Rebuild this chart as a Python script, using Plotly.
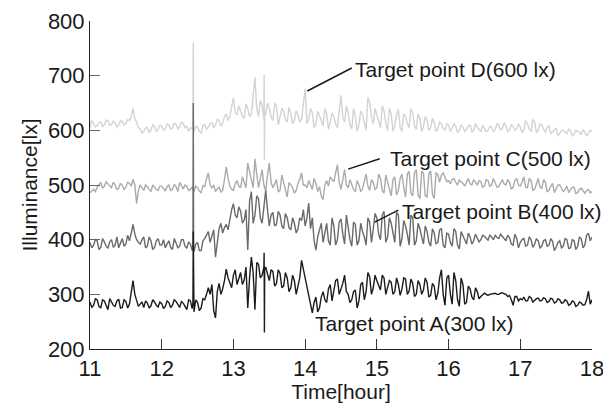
import numpy as np
import plotly.graph_objects as go

hours = [11, 12, 13, 14, 15, 16, 17, 18]

# readings on the 0.05 h grid (11.00, 11.05, ... 18.00)
d_vals = [
    605, 612, 608, 615, 610, 617, 611, 614, 609, 616, 612, 618, 640, 615, 603, 598, 606, 600, 607, 602,
    608, 603, 610, 604, 611, 606, 613, 608, 605, 598, 606, 595, 610, 606, 614, 610, 618, 612, 630, 625,
    660, 628, 636, 622, 640, 630, 697, 625, 645, 630, 640, 618, 645, 625, 635, 615, 630, 618, 628, 620,
    676, 620, 632, 612, 628, 608, 630, 615, 625, 605, 664, 615, 632, 603, 625, 610, 630, 600, 650, 612,
    628, 605, 635, 600, 630, 610, 638, 598, 625, 605, 632, 602, 622, 608, 618, 604, 614, 602, 612, 600,
    610, 604, 608, 600, 606, 602, 609, 600, 605, 598, 604, 600, 606, 602, 610, 604, 608, 600, 607, 603,
    606, 600, 612, 598, 615, 600, 610, 596, 608, 598, 604, 595, 600, 594, 599, 593, 598, 592, 597, 594,
    598,
]
c_vals = [
    486, 492, 496, 505, 498, 502, 495, 500, 494, 499, 496, 503, 510, 466, 500, 490, 497, 488, 495, 490,
    498, 489, 500, 492, 497, 505, 493, 498, 492, 488, 495, 486, 497, 522, 494, 488, 496, 490, 533, 498,
    490, 508, 495, 505, 540, 510, 548, 495, 528, 488, 540, 495, 510, 490, 505, 478, 500, 485, 503, 522,
    500, 508, 492, 503, 497, 473, 508, 515, 506, 537, 492, 528, 495, 502, 488, 500, 493, 520, 490, 505,
    495, 512, 485, 505, 480, 515, 490, 520, 478, 525, 480, 528, 475, 522, 478, 526, 475, 520, 518, 512,
    508, 510, 505, 509, 503, 507, 502, 510, 500, 506, 498, 508, 500, 504, 497, 510, 500, 505, 496, 512,
    498, 515, 495, 508, 492, 512, 494, 505, 490, 503, 492, 500, 488, 498, 490, 496, 486, 494, 485, 492,
    488,
]
b_vals = [
    395, 390, 398, 386, 396, 384, 400, 390, 385, 402, 392, 398, 428, 400, 392, 405, 388, 398, 386, 402,
    390, 385, 398, 382, 394, 388, 400, 384, 392, 378, 395, 380, 402, 415, 405, 368, 420, 412, 428, 440,
    466, 440, 452, 436, 381, 488, 445, 475, 430, 490, 425, 450, 428, 445, 420, 440, 418, 430, 420, 435,
    425, 467, 440, 381, 420, 395, 430, 390, 425, 400, 438, 392, 420, 388, 428, 398, 415, 390, 432, 420,
    440, 400, 452, 405, 430, 395, 445, 402, 425, 390, 440, 398, 420, 392, 415, 388, 412, 395, 420, 385,
    410, 388, 415, 383, 408, 392, 405, 398, 404, 400, 406, 399, 405, 408, 402, 406, 398, 404, 390, 402,
    395, 403, 390, 400, 392, 398, 388, 400, 390, 397, 386, 398, 388, 400, 385, 398, 388, 402, 390, 412,
    405,
]
a_vals = [
    286, 280, 290, 275, 288, 272, 285, 278, 291, 276, 287, 282, 325, 290, 282, 276, 284, 279, 286, 277,
    283, 278, 285, 280, 287, 276, 284, 272, 288, 268, 285, 275, 290, 312, 318, 257, 320, 310, 346, 322,
    335, 318, 340, 326, 275, 368, 272, 355, 335, 350, 325, 342, 320, 338, 315, 330, 312, 325, 318, 362,
    330, 300, 266, 295, 275, 305, 285, 318, 305, 328, 310, 335, 300, 290, 308, 288, 322, 305, 332, 312,
    325, 308, 330, 312, 322, 305, 318, 310, 328, 306, 320, 300, 318, 308, 322, 298, 315, 302, 345, 280,
    335, 282, 325, 278, 318, 285, 310, 290, 305, 296, 302, 298, 301, 302, 300, 303, 300, 298, 280, 296,
    292, 295, 288, 294, 290, 293, 289, 292, 287, 291, 286, 290, 285, 288, 282, 286, 280, 284, 281, 306,
    290,
]

# readings halfway between grid points (11.025, 11.075, ... 17.975)
d_mid = [
    618, 606, 614, 607, 619, 609, 617, 606, 618, 610, 620, 625, 622, 605, 595, 604, 596, 610, 598, 609,
    600, 612, 602, 613, 603, 615, 604, 598, 603, 607, 598, 609, 602, 612, 605, 620, 608, 625, 618, 640,
    632, 645, 626, 648, 625, 660, 640, 655, 620, 650, 625, 650, 610, 640, 620, 642, 612, 636, 615, 645,
    612, 640, 605, 635, 618, 640, 602, 632, 612, 640, 625, 645, 610, 640, 598, 635, 615, 660, 625, 640,
    615, 645, 612, 640, 598, 628, 605, 630, 612, 640, 608, 630, 598, 625, 600, 622, 598, 615, 604, 612,
    598, 612, 596, 610, 598, 608, 597, 612, 601, 609, 598, 607, 598, 612, 600, 614, 598, 611, 600, 612,
    596, 618, 602, 620, 596, 612, 602, 606, 594, 602, 590, 600, 596, 602, 590, 600, 596, 601, 590, 600,
]
c_mid = [
    490, 488, 500, 494, 506, 497, 505, 492, 503, 492, 505, 498, 500, 490, 495, 500, 492, 500, 492, 498,
    494, 497, 490, 501, 488, 499, 500, 490, 496, 498, 489, 499, 512, 500, 500, 493, 487, 510, 512, 492,
    502, 498, 515, 495, 522, 495, 520, 512, 500, 518, 505, 502, 488, 518, 492, 505, 495, 490, 510, 500,
    495, 500, 512, 488, 480, 500, 498, 510, 522, 505, 510, 500, 510, 492, 508, 488, 505, 498, 510, 492,
    520, 490, 518, 488, 510, 482, 512, 495, 520, 485, 522, 482, 525, 480, 520, 483, 522, 505, 522, 506,
    502, 512, 500, 506, 498, 512, 500, 504, 508, 496, 510, 498, 512, 496, 505, 502, 510, 492, 508, 500,
    505, 496, 512, 490, 502, 496, 510, 488, 498, 486, 500, 494, 492, 486, 496, 484, 492, 489, 490, 486,
]
b_mid = [
    385, 400, 382, 402, 388, 396, 386, 405, 395, 388, 408, 412, 410, 395, 400, 385, 405, 382, 398, 390,
    400, 392, 386, 402, 385, 400, 388, 396, 380, 392, 380, 398, 410, 395, 418, 400, 430, 422, 418, 455,
    445, 460, 430, 455, 470, 430, 480, 440, 460, 455, 445, 425, 452, 425, 448, 422, 440, 412, 440, 455,
    440, 420, 398, 405, 430, 415, 398, 440, 390, 432, 410, 445, 400, 432, 390, 430, 405, 440, 395, 448,
    410, 445, 395, 440, 415, 450, 388, 435, 410, 445, 390, 430, 405, 425, 395, 420, 392, 418, 390, 412,
    395, 420, 390, 415, 398, 412, 392, 410, 396, 408, 402, 408, 400, 404, 410, 400, 408, 392, 410, 385,
    400, 388, 405, 386, 402, 385, 398, 388, 402, 380, 395, 385, 402, 384, 400, 382, 405, 385, 408, 398,
]
a_mid = [
    276, 292, 278, 290, 278, 292, 280, 288, 275, 290, 275, 305, 300, 278, 286, 288, 275, 290, 280, 286,
    274, 288, 276, 290, 280, 287, 278, 290, 274, 290, 270, 292, 300, 300, 270, 305, 300, 325, 330, 312,
    345, 330, 318, 350, 330, 340, 358, 330, 350, 335, 345, 315, 345, 312, 340, 305, 335, 300, 330, 345,
    310, 280, 285, 268, 295, 290, 310, 288, 325, 300, 320, 305, 285, 305, 275, 318, 290, 340, 300, 335,
    315, 335, 300, 325, 300, 330, 298, 330, 300, 328, 296, 325, 300, 330, 295, 320, 290, 330, 300, 330,
    300, 340, 290, 330, 282, 315, 295, 312, 292, 300, 300, 300, 302, 300, 302, 301, 296, 290, 296, 288,
    290, 288, 296, 286, 292, 288, 294, 285, 293, 284, 292, 284, 290, 280, 288, 278, 286, 280, 290, 282,
]

# narrow spikes (time, value)
d_spike_t = [12.435, 12.44, 12.445, 13.428, 13.432, 13.436]
d_spike_v = [605, 760, 600, 702, 546, 630]
b_spike_t = [12.435, 12.44, 12.445]
b_spike_v = [392, 650, 380]
a_spike_t = [12.435, 12.44, 12.445, 13.428, 13.432, 13.436]
a_spike_v = [285, 415, 270, 376, 230, 345]

t_grid = list(np.round(np.arange(len(a_vals)) * 0.05 + 11, 3))
t_mid = list(np.round(np.arange(len(a_mid)) * 0.05 + 11.025, 3))


def merged(vals, mid, st=(), sv=()):
    pts = sorted(list(zip(t_grid, vals)) + list(zip(t_mid, mid)) + list(zip(st, sv)))
    return [p[0] for p in pts], [p[1] for p in pts]


series = [
    ("D", d_vals, d_mid, d_spike_t, d_spike_v, "#d3d3d3"),
    ("C", c_vals, c_mid, [], [], "#ababab"),
    ("B", b_vals, b_mid, b_spike_t, b_spike_v, "#6a6a6a"),
    ("A", a_vals, a_mid, a_spike_t, a_spike_v, "#1c1c1c"),
]

fig = go.Figure()
for name, vals, mid, st, sv, col in series:
    x, y = merged(vals, mid, st, sv)
    fig.add_trace(go.Scatter(x=x, y=y, mode="lines", name=name,
                             line=dict(color=col, width=1.4), showlegend=False))

font = "Liberation Sans, Arial, sans-serif"

labels = [
    ("Target point D(600 lx)", 14.70, 712, (14.03, 672, 14.65, 714)),
    ("Target point C(500 lx)", 15.18, 548, (14.60, 529, 15.04, 548)),
    ("Target point B(400 lx)", 15.35, 452, (14.97, 432, 15.30, 454)),
    ("Target point A(300 lx)", 14.14, 246, None),
]
for txt, tx, ty, ln in labels:
    fig.add_annotation(x=tx, y=ty, text=txt, showarrow=False, xanchor="left",
                       yanchor="middle", xshift=-2,
                       font=dict(family=font, size=21, color="#1a1a1a"))
    if ln:
        fig.add_shape(type="line", x0=ln[0], y0=ln[1], x1=ln[2], y1=ln[3],
                      line=dict(color="#1a1a1a", width=1.5))

# the page body adds an 8 px offset, so the figure is drawn 8 px in from the corner
fig.update_layout(
    width=603, height=395,
    margin=dict(l=82, r=19, t=13, b=54),
    paper_bgcolor="white", plot_bgcolor="white",
    font=dict(family=font, size=22, color="#1a1a1a"),
)
fig.update_xaxes(range=[11, 18], tickvals=hours, ticks="inside", ticklen=10,
                 tickcolor="#333", showline=True, linecolor="#222", linewidth=1,
                 showgrid=False, zeroline=False, automargin=False,
                 tickfont=dict(size=22),
                 title=dict(text="Time[hour]", font=dict(size=21), standoff=0))
fig.update_yaxes(range=[200, 800], tickvals=[200, 300, 400, 500, 600, 700, 800],
                 ticks="inside", ticklen=10, tickcolor="#666", showline=True,
                 linecolor="#222", linewidth=1, showgrid=False, zeroline=False,
                 automargin=False, tickfont=dict(size=22),
                 title=dict(text="Illuminance[lx]", font=dict(size=21), standoff=4))

fig.write_html("out.html")
